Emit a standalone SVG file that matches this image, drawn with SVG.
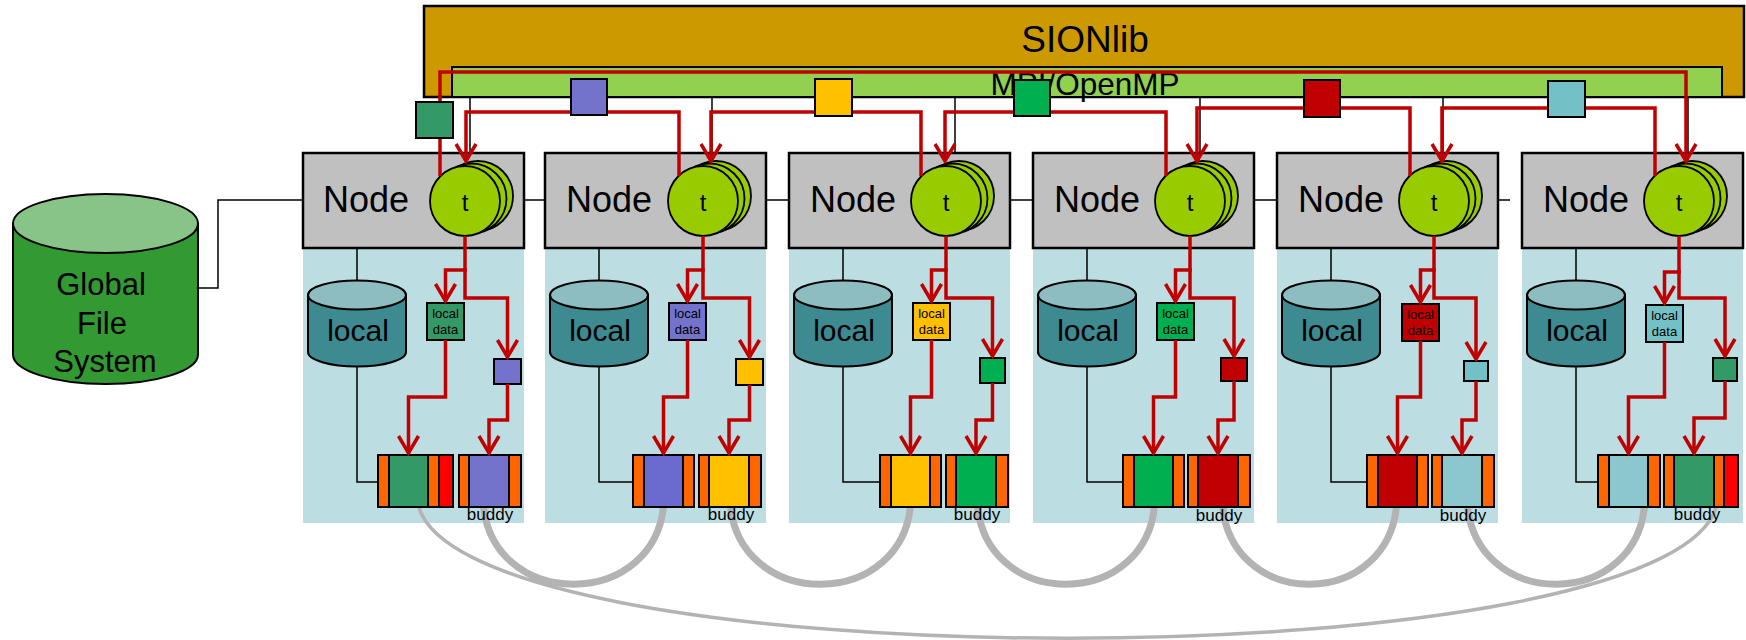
<svg xmlns="http://www.w3.org/2000/svg" width="1746" height="640" viewBox="0 0 1746 640">
<style>
text{font-family:"Liberation Sans",Arial,sans-serif;fill:#000}
.panel{fill:#BCDEE2}
.nodebox{fill:#C0C0C0;stroke:#000;stroke-width:2.5}
.nodelbl{font-size:36px}
.thr{fill:#99CC00;stroke:#000;stroke-width:1.8}
.t{font-size:24px;text-anchor:middle}
.cylb{fill:#3D8A91;stroke:#000;stroke-width:2}
.cylt{fill:#8DBDC1;stroke:#000;stroke-width:2}
.loc{font-size:30px;text-anchor:middle}
.ld{stroke:#000;stroke-width:2}
.ldt{font-size:13px;text-anchor:middle}
.sq{stroke:#000;stroke-width:2}
.seg{stroke:#000;stroke-width:2}
.or{fill:#FF6600}
.rd{fill:#FF0000}
.buddy{font-size:17px;text-anchor:middle}
.red{stroke:#C00000;stroke-width:3.5;fill:none;stroke-linejoin:miter}
.arr{marker-end:url(#ah)}
.thin{stroke:#000;stroke-width:1.5;fill:none}
.arc{stroke:#B3B3B3;stroke-width:7;fill:none}
.arcbig{stroke:#B3B3B3;stroke-width:3.5;fill:none}
.tsq{stroke:#000;stroke-width:2}
</style>
<defs>
<marker id="ah" markerUnits="userSpaceOnUse" markerWidth="40" markerHeight="40" refX="0" refY="0" orient="auto" overflow="visible">
<path d="M-17,-10 L0,0 L-17,10" fill="none" stroke="#C00000" stroke-width="3.5"/>
</marker>
</defs>

<g id="sionlib">
<rect x="424" y="6" width="1320" height="91" fill="#CC9900" stroke="#000" stroke-width="2.5"/>
<text x="1085" y="52" font-size="37" text-anchor="middle">SIONlib</text>
</g>
<g id="mpi">
<rect x="452" y="67" width="1270" height="30" fill="#92D050" stroke="#000" stroke-width="2"/>
<text x="1085" y="95" font-size="31.5" text-anchor="middle">MPI/OpenMP</text>
</g>

<g id="gfs">
<path d="M13 223.5 V354.5 A92.5 29.5 0 0 0 198 354.5 V223.5 Z" fill="#339933" stroke="#000" stroke-width="2"/>
<ellipse cx="105.5" cy="223.5" rx="92.5" ry="29.5" fill="#88C488" stroke="#000" stroke-width="2"/>
<text x="101" y="295" font-size="31" text-anchor="middle">Global</text>
<text x="102" y="334" font-size="31" text-anchor="middle">File</text>
<text x="105" y="372" font-size="31" text-anchor="middle">System</text>
</g>

<g id="panels">
<rect id="panel1" class="panel" x="303" y="200" width="221" height="323"/>
<rect id="panel2" class="panel" x="545" y="200" width="221" height="323"/>
<rect id="panel3" class="panel" x="789" y="200" width="221" height="323"/>
<rect id="panel4" class="panel" x="1033" y="200" width="221" height="323"/>
<rect id="panel5" class="panel" x="1277" y="200" width="221" height="323"/>
<rect id="panel6" class="panel" x="1522" y="200" width="221" height="323"/>
</g>

<g id="buddy-links">
<path class="arcbig" d="M417 495 C417 686 1718 686 1718 495"/>
<path class="arc" d="M483 495 C483 614 664 614 664 495"/>
<path class="arc" d="M730 495 C730 614 911 614 911 495"/>
<path class="arc" d="M977 495 C977 614 1155 614 1155 495"/>
<path class="arc" d="M1222 495 C1222 614 1397 614 1397 495"/>
<path class="arc" d="M1467 495 C1467 614 1645 614 1645 495"/>
</g>

<!-- Node 1 -->
<g id="node1">
<rect class="nodebox" x="303" y="153" width="221" height="95"/>
<text class="nodelbl" x="323" y="212">Node</text>
<circle class="thr" cx="478" cy="196" r="35"/>
<circle class="thr" cx="471.5" cy="198.5" r="35"/>
<circle class="thr" cx="465" cy="201" r="35"/>
<text class="t" x="465" y="211">t</text>
<path class="cylb" d="M308 295 V352 A49 14.5 0 0 0 406 352 V295 Z"/>
<ellipse class="cylt" cx="357" cy="295" rx="49" ry="14.5"/>
<text class="loc" x="358" y="341">local</text>
<rect class="ld" x="427" y="303" width="37" height="37" fill="#339966"/>
<text class="ldt" x="445.5" y="318">local</text>
<text class="ldt" x="445.5" y="334">data</text>
<rect class="sq" x="494" y="359" width="27" height="25" fill="#7373CC"/>
<rect class="seg or" x="378" y="455" width="11" height="52"/>
<rect class="seg" x="389" y="455" width="39" height="52" fill="#339966"/>
<rect class="seg or" x="428" y="455" width="11" height="52"/>
<rect class="seg rd" x="439" y="455" width="14" height="52"/>
<rect class="seg or" x="459" y="455" width="10" height="52"/>
<rect class="seg" x="469" y="455" width="40" height="52" fill="#7373CC"/>
<rect class="seg or" x="509" y="455" width="12" height="52"/>
<text class="buddy" x="490" y="520">buddy</text>
</g>

<!-- Node 2 -->
<g id="node2">
<rect class="nodebox" x="545" y="153" width="221" height="95"/>
<text class="nodelbl" x="566" y="212">Node</text>
<circle class="thr" cx="716" cy="196" r="35"/>
<circle class="thr" cx="709.5" cy="198.5" r="35"/>
<circle class="thr" cx="703" cy="201" r="35"/>
<text class="t" x="703" y="211">t</text>
<path class="cylb" d="M550 295 V352 A49 14.5 0 0 0 648 352 V295 Z"/>
<ellipse class="cylt" cx="599" cy="295" rx="49" ry="14.5"/>
<text class="loc" x="600" y="341">local</text>
<rect class="ld" x="669" y="303" width="37" height="37" fill="#7373CC"/>
<text class="ldt" x="687.5" y="318">local</text>
<text class="ldt" x="687.5" y="334">data</text>
<rect class="sq" x="736" y="359" width="27" height="26" fill="#FFC000"/>
<rect class="seg or" x="633" y="455" width="11" height="52"/>
<rect class="seg" x="644" y="455" width="39" height="52" fill="#6B6BCF"/>
<rect class="seg or" x="683" y="455" width="11" height="52"/>
<rect class="seg or" x="699" y="455" width="10" height="52"/>
<rect class="seg" x="709" y="455" width="40" height="52" fill="#FFC000"/>
<rect class="seg or" x="749" y="455" width="12" height="52"/>
<text class="buddy" x="731" y="520">buddy</text>
</g>

<!-- Node 3 -->
<g id="node3">
<rect class="nodebox" x="789" y="153" width="221" height="95"/>
<text class="nodelbl" x="810" y="212">Node</text>
<circle class="thr" cx="959" cy="196" r="35"/>
<circle class="thr" cx="952.5" cy="198.5" r="35"/>
<circle class="thr" cx="946" cy="201" r="35"/>
<text class="t" x="946" y="211">t</text>
<path class="cylb" d="M794 295 V352 A49 14.5 0 0 0 892 352 V295 Z"/>
<ellipse class="cylt" cx="843" cy="295" rx="49" ry="14.5"/>
<text class="loc" x="844" y="341">local</text>
<rect class="ld" x="913" y="303" width="37" height="37" fill="#FFC000"/>
<text class="ldt" x="931.5" y="318">local</text>
<text class="ldt" x="931.5" y="334">data</text>
<rect class="sq" x="980" y="358" width="25" height="25" fill="#00B050"/>
<rect class="seg or" x="880" y="455" width="11" height="52"/>
<rect class="seg" x="891" y="455" width="39" height="52" fill="#FFC000"/>
<rect class="seg or" x="930" y="455" width="11" height="52"/>
<rect class="seg or" x="946" y="455" width="10" height="52"/>
<rect class="seg" x="956" y="455" width="40" height="52" fill="#00B050"/>
<rect class="seg or" x="996" y="455" width="12" height="52"/>
<text class="buddy" x="977" y="520">buddy</text>
</g>

<!-- Node 4 -->
<g id="node4">
<rect class="nodebox" x="1033" y="153" width="221" height="95"/>
<text class="nodelbl" x="1054" y="212">Node</text>
<circle class="thr" cx="1203" cy="196" r="35"/>
<circle class="thr" cx="1196.5" cy="198.5" r="35"/>
<circle class="thr" cx="1190" cy="201" r="35"/>
<text class="t" x="1190" y="211">t</text>
<path class="cylb" d="M1038 295 V352 A49 14.5 0 0 0 1136 352 V295 Z"/>
<ellipse class="cylt" cx="1087" cy="295" rx="49" ry="14.5"/>
<text class="loc" x="1088" y="341">local</text>
<rect class="ld" x="1157" y="303" width="37" height="37" fill="#00B050"/>
<text class="ldt" x="1175.5" y="318">local</text>
<text class="ldt" x="1175.5" y="334">data</text>
<rect class="sq" x="1221" y="358" width="26" height="23" fill="#C00000"/>
<rect class="seg or" x="1123" y="455" width="11" height="52"/>
<rect class="seg" x="1134" y="455" width="39" height="52" fill="#00B050"/>
<rect class="seg or" x="1173" y="455" width="11" height="52"/>
<rect class="seg or" x="1188" y="455" width="10" height="52"/>
<rect class="seg" x="1198" y="455" width="40" height="52" fill="#C00000"/>
<rect class="seg or" x="1238" y="455" width="12" height="52"/>
<text class="buddy" x="1219" y="521">buddy</text>
</g>

<!-- Node 5 -->
<g id="node5">
<rect class="nodebox" x="1277" y="153" width="221" height="95"/>
<text class="nodelbl" x="1298" y="212">Node</text>
<circle class="thr" cx="1447" cy="196" r="35"/>
<circle class="thr" cx="1440.5" cy="198.5" r="35"/>
<circle class="thr" cx="1434" cy="201" r="35"/>
<text class="t" x="1434" y="211">t</text>
<path class="cylb" d="M1282 295 V352 A49 14.5 0 0 0 1380 352 V295 Z"/>
<ellipse class="cylt" cx="1331" cy="295" rx="49" ry="14.5"/>
<text class="loc" x="1332" y="341">local</text>
<rect class="ld" x="1402" y="304" width="37" height="37" fill="#C00000"/>
<text class="ldt" x="1420.5" y="319">local</text>
<text class="ldt" x="1420.5" y="335">data</text>
<rect class="sq" x="1464" y="361" width="24" height="20" fill="#74C0C7"/>
<rect class="seg or" x="1367" y="455" width="11" height="52"/>
<rect class="seg" x="1378" y="455" width="39" height="52" fill="#C00000"/>
<rect class="seg or" x="1417" y="455" width="11" height="52"/>
<rect class="seg or" x="1432" y="455" width="10" height="52"/>
<rect class="seg" x="1442" y="455" width="40" height="52" fill="#8CC7CD"/>
<rect class="seg or" x="1482" y="455" width="12" height="52"/>
<text class="buddy" x="1463" y="521">buddy</text>
</g>

<!-- Node 6 -->
<g id="node6">
<rect class="nodebox" x="1522" y="153" width="221" height="95"/>
<text class="nodelbl" x="1543" y="212">Node</text>
<circle class="thr" cx="1692" cy="196" r="35"/>
<circle class="thr" cx="1685.5" cy="198.5" r="35"/>
<circle class="thr" cx="1679" cy="201" r="35"/>
<text class="t" x="1679" y="211">t</text>
<path class="cylb" d="M1527 295 V352 A49 14.5 0 0 0 1625 352 V295 Z"/>
<ellipse class="cylt" cx="1576" cy="295" rx="49" ry="14.5"/>
<text class="loc" x="1577" y="341">local</text>
<rect class="ld" x="1646" y="305" width="37" height="37" fill="#74C0C7"/>
<text class="ldt" x="1664.5" y="320">local</text>
<text class="ldt" x="1664.5" y="336">data</text>
<rect class="sq" x="1713" y="358" width="24" height="23" fill="#339966"/>
<rect class="seg or" x="1598" y="455" width="11" height="52"/>
<rect class="seg" x="1609" y="455" width="39" height="52" fill="#8CC7CD"/>
<rect class="seg or" x="1648" y="455" width="12" height="52"/>
<rect class="seg or" x="1664" y="455" width="10" height="52"/>
<rect class="seg" x="1674" y="455" width="40" height="52" fill="#339966"/>
<rect class="seg or" x="1714" y="455" width="10" height="52"/>
<rect class="seg rd" x="1724" y="455" width="14" height="52"/>
<text class="buddy" x="1697" y="520">buddy</text>
</g>

<g id="connectors">
<!-- thin black links -->
<path class="thin" d="M198 288 H218 V200 H303"/>
<path class="thin" d="M524 200 H545 M766 200 H789 M1010 200 H1033 M1254 200 H1277 M1498 200 H1510"/>
<path class="thin" d="M470 97 V153 M712 97 V153 M955 97 V153 M1200 97 V153 M1443 97 V153 M1688 97 V153"/>
<path class="thin" d="M357 248 V280.5 M357 366.5 V482 H378"/>
<path class="thin" d="M599 248 V280.5 M599 366.5 V482 H633"/>
<path class="thin" d="M843 248 V280.5 M843 366.5 V482 H880"/>
<path class="thin" d="M1087 248 V280.5 M1087 366.5 V482 H1123"/>
<path class="thin" d="M1331 248 V280.5 M1331 366.5 V482 H1367"/>
<path class="thin" d="M1576 248 V280.5 M1576 366.5 V482 H1598"/>
<!-- top data routes -->
<path class="red arr" d="M440 176 V72 H1686 V161"/>
<path class="red arr" d="M679 176 V112 H466 V161"/>
<path class="red arr" d="M921 176 V112 H711 V161"/>
<path class="red arr" d="M1166 176 V112 H945 V161"/>
<path class="red arr" d="M1410 176 V108 H1197 V161"/>
<path class="red arr" d="M1655 176 V108 H1442 V161"/>
<rect class="tsq" x="416" y="102" width="37" height="36" fill="#339966"/>
<rect class="tsq" x="571" y="79" width="36" height="36" fill="#7373CC"/>
<rect class="tsq" x="815" y="79" width="37" height="37" fill="#FFC000"/>
<rect class="tsq" x="1014" y="80" width="36" height="36" fill="#00B050"/>
<rect class="tsq" x="1304" y="80" width="36" height="37" fill="#C00000"/>
<rect class="tsq" x="1548" y="81" width="37" height="36" fill="#74C0C7"/>
<!-- node-internal routes -->
<path class="red arr" d="M465 236 V270 H445.5 V301"/>
<path class="red arr" d="M465 268 V298 H507.5 V357"/>
<path class="red arr" d="M445.5 340 V397 H408.5 V453"/>
<path class="red arr" d="M507.5 384 V420 H489 V453"/>

<path class="red arr" d="M703 236 V270 H687.5 V301"/>
<path class="red arr" d="M703 268 V298 H749.5 V357"/>
<path class="red arr" d="M687.5 340 V397 H663.5 V453"/>
<path class="red arr" d="M749.5 385 V420 H729 V453"/>

<path class="red arr" d="M946 236 V270 H931.5 V301"/>
<path class="red arr" d="M946 268 V298 H992.5 V356"/>
<path class="red arr" d="M931.5 340 V397 H910.5 V453"/>
<path class="red arr" d="M992.5 383 V420 H976 V453"/>

<path class="red arr" d="M1190 236 V270 H1175.5 V301"/>
<path class="red arr" d="M1190 268 V298 H1234 V356"/>
<path class="red arr" d="M1175.5 340 V397 H1153.5 V453"/>
<path class="red arr" d="M1234 381 V420 H1218 V453"/>

<path class="red arr" d="M1434 236 V270 H1420.5 V302"/>
<path class="red arr" d="M1434 268 V298 H1476 V359"/>
<path class="red arr" d="M1420.5 341 V397 H1397.5 V453"/>
<path class="red arr" d="M1476 381 V420 H1462 V453"/>

<path class="red arr" d="M1679 236 V272 H1664.5 V303"/>
<path class="red arr" d="M1679 270 V298 H1725 V356"/>
<path class="red arr" d="M1664.5 342 V397 H1628.5 V453"/>
<path class="red arr" d="M1725 381 V418 H1694 V453"/>
</g>
</svg>
